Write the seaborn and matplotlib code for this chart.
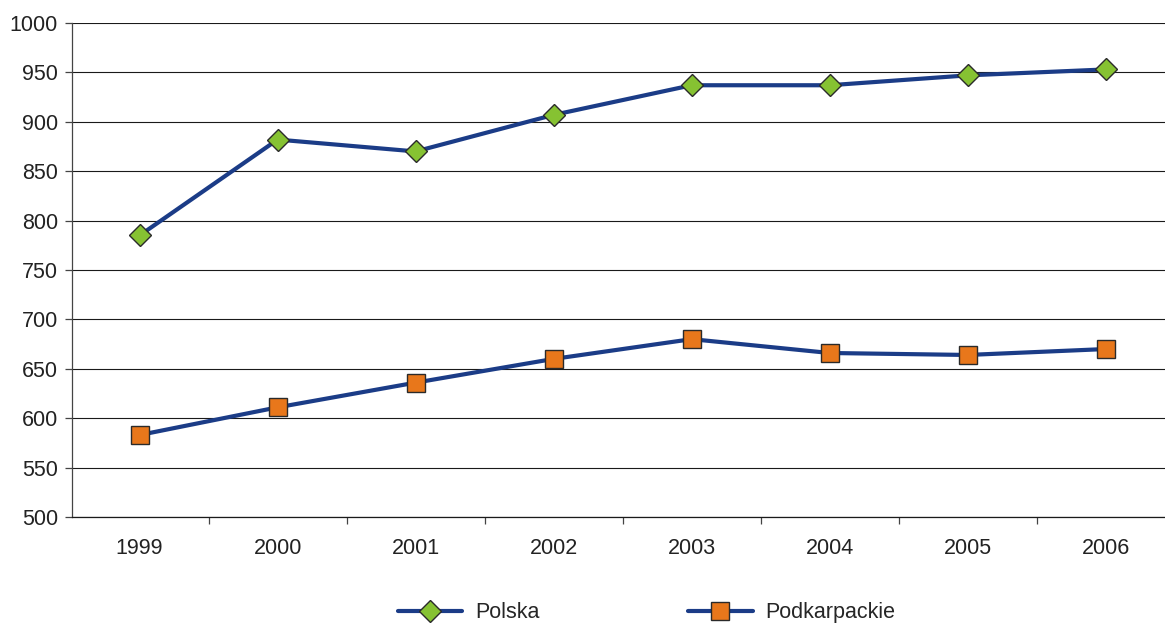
import pandas as pd
import matplotlib.pyplot as plt
from matplotlib.lines import Line2D
import seaborn as sns

# dane
years = [1999, 2000, 2001, 2002, 2003, 2004, 2005, 2006]
polska = [785, 882, 870, 907, 937, 937, 947, 953]
podkarpackie = [583, 611, 636, 660, 680, 666, 664, 670]
y_ticks = list(range(500, 1001, 50))

navy = '#1b3c87'
green = '#86c232'
orange = '#e8771b'
edge = '#2a2a2a'

df = pd.DataFrame({'Rok': years, 'Polska': polska, 'Podkarpackie': podkarpackie})

sns.set_style("white")
plt.rcParams['font.family'] = ['Liberation Sans', 'DejaVu Sans']

fig = plt.figure(figsize=(11.65, 6.25), dpi=100)
ax = fig.add_axes([72 / 1165, 1 - 517 / 625, 1 - 72 / 1165, (517 - 23) / 625])

sns.lineplot(data=df, x='Rok', y='Polska', ax=ax, color=navy, linewidth=3,
             marker='D', markersize=11, markerfacecolor=green,
             markeredgecolor=edge, markeredgewidth=1.0, zorder=3)
sns.lineplot(data=df, x='Rok', y='Podkarpackie', ax=ax, color=navy, linewidth=3,
             marker='s', markersize=12.5, markerfacecolor=orange,
             markeredgecolor=edge, markeredgewidth=1.0, zorder=3)

ax.set_ylim(500, 1000)
ax.set_yticks(y_ticks)
ax.set_xlim(years[0] - 0.49, years[-1] + 0.43)
ax.set_xticks(years)
ax.set_xticklabels([str(y) for y in years])
# znaczniki osi X pomiędzy kategoriami
ax.set_xticks([y + 0.5 for y in years[:-1]], minor=True)

ax.yaxis.grid(True, color='#1a1a1a', linewidth=0.8)
ax.set_axisbelow(True)
ax.set_xlabel('')
ax.set_ylabel('')

for s in ['top', 'right']:
    ax.spines[s].set_visible(False)
ax.spines['left'].set_color('#444444')
ax.spines['bottom'].set_color('#1a1a1a')
ax.spines['left'].set_linewidth(0.9)
ax.spines['bottom'].set_linewidth(0.9)

ax.tick_params(axis='y', which='major', direction='out', length=5, width=0.9,
               color='#444444', labelsize=15.5, pad=5, left=True)
ax.tick_params(axis='x', which='major', length=0, labelsize=15.5, pad=15, bottom=True)
ax.tick_params(axis='x', which='minor', direction='out', length=5, width=0.9,
               color='#444444', bottom=True)
for lbl in ax.get_xticklabels() + ax.get_yticklabels():
    lbl.set_color('#222222')

handles = [
    Line2D([], [], color=navy, linewidth=3, marker='D', markersize=11,
           markerfacecolor=green, markeredgecolor=edge, markeredgewidth=1.0),
    Line2D([], [], color=navy, linewidth=3, marker='s', markersize=12.5,
           markerfacecolor=orange, markeredgecolor=edge, markeredgewidth=1.0),
]
fig.legend(handles, ['Polska', 'Podkarpackie'], loc='lower center',
           bbox_to_anchor=(0.555, -0.028), ncol=2, frameon=False, fontsize=15.5,
           handlelength=3.0, handletextpad=0.6, columnspacing=6.9)

fig.savefig('out.png', dpi=100)
